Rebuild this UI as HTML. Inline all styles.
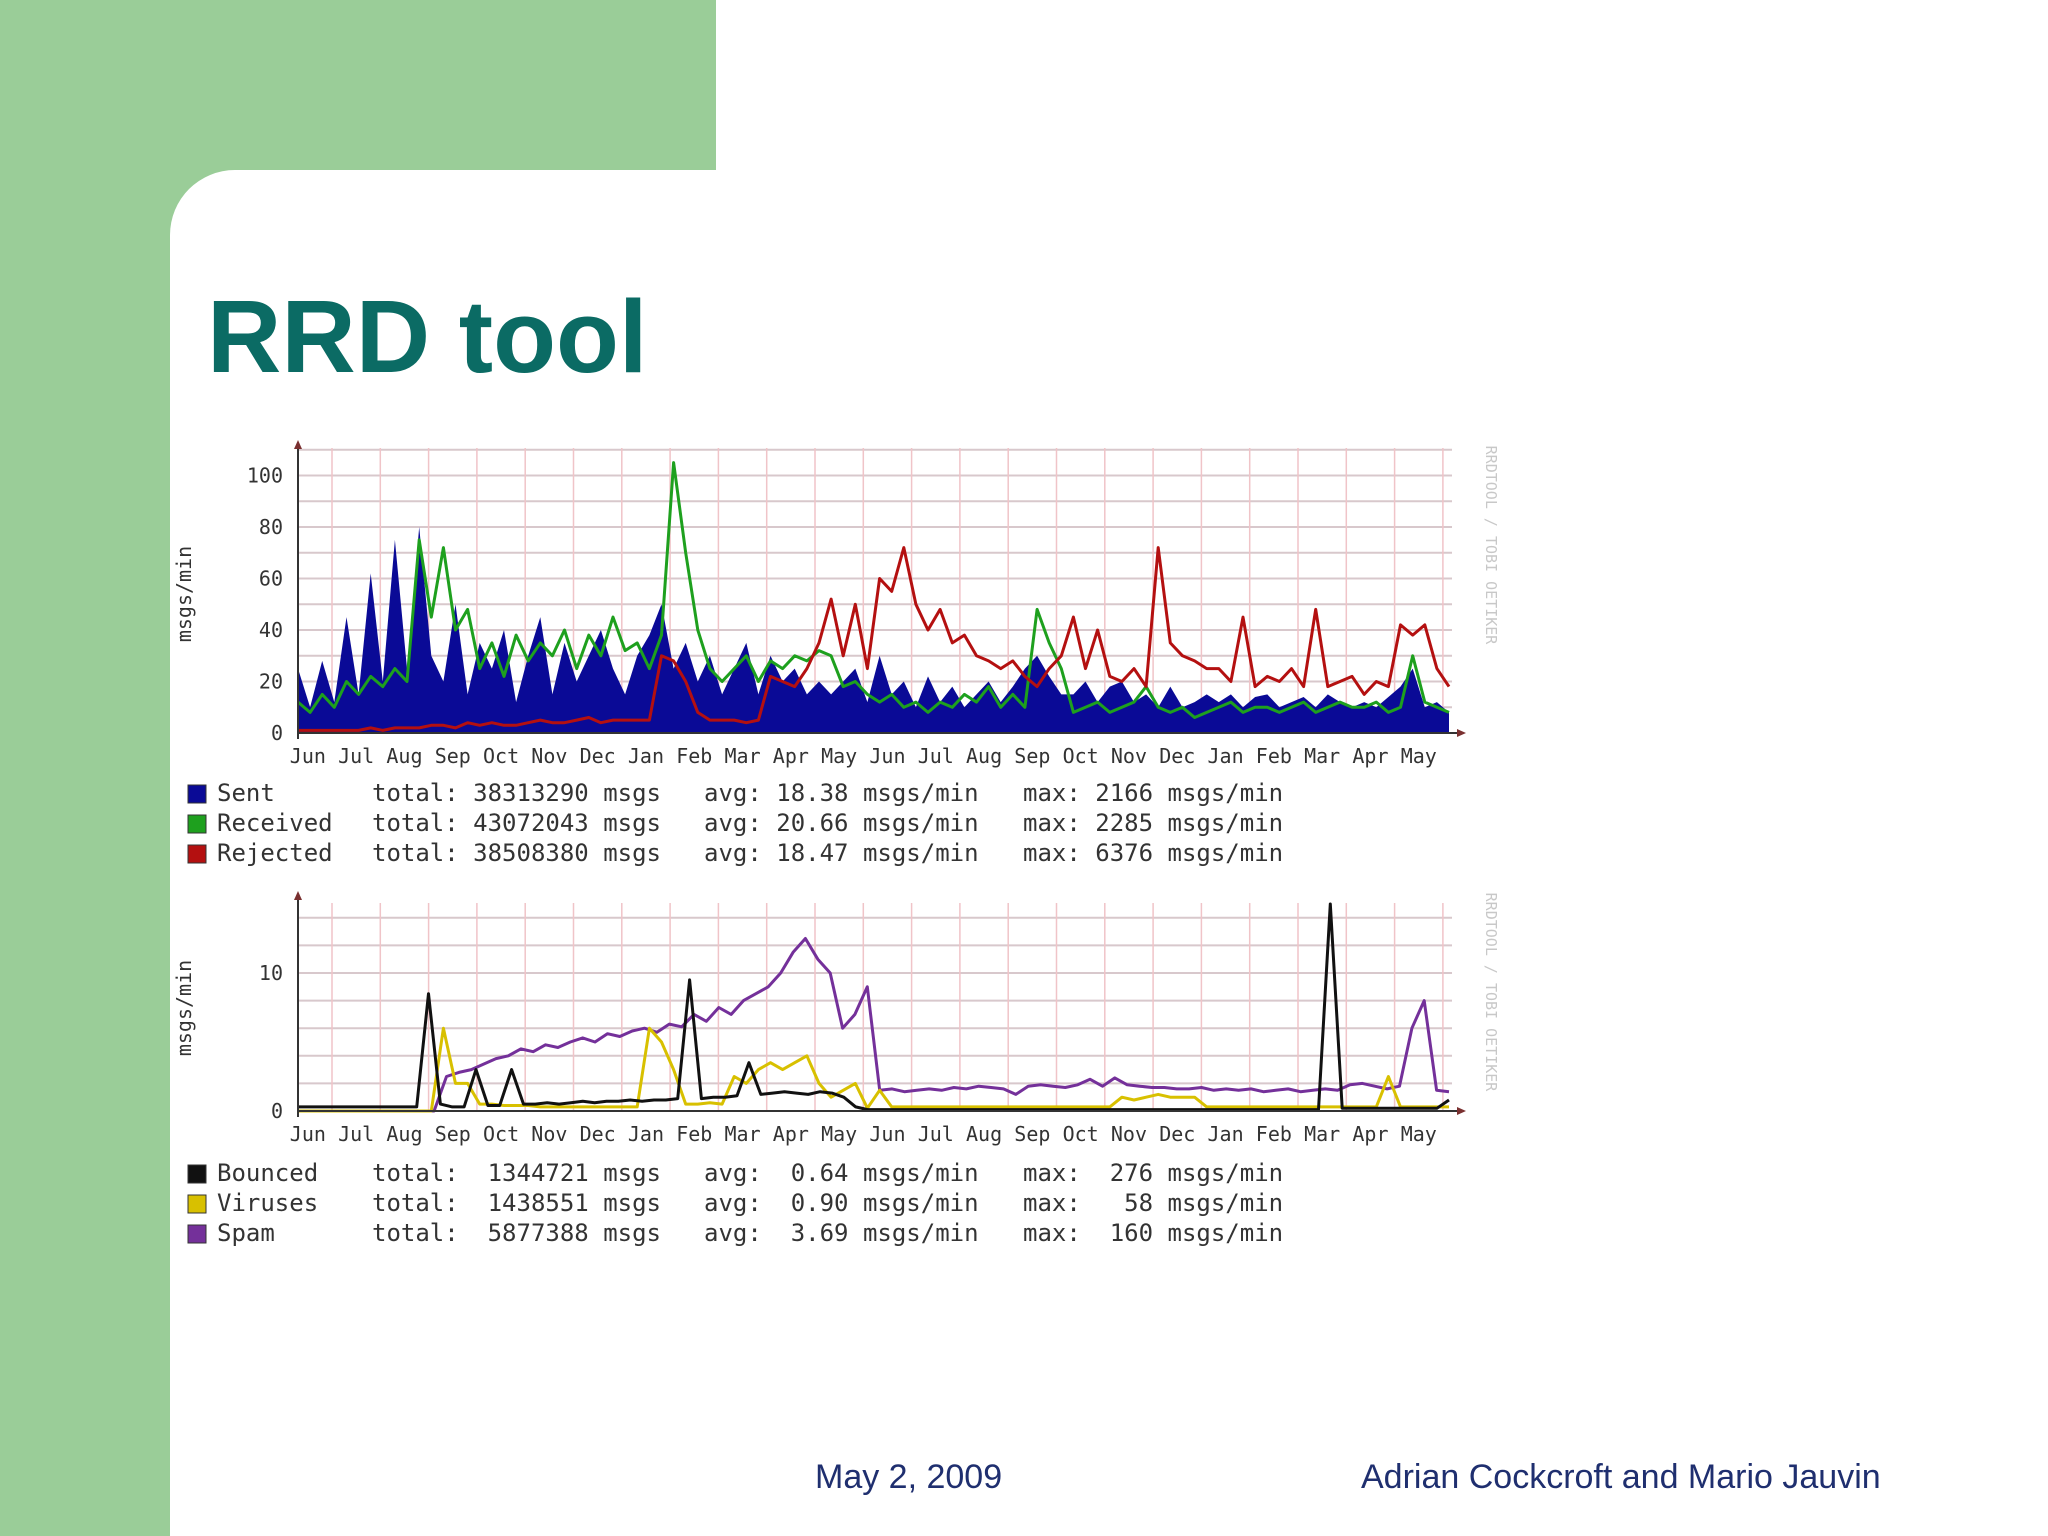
<!DOCTYPE html>
<html><head><meta charset="utf-8"><style>
html,body{margin:0;padding:0;background:#fff;}
#page{position:relative;width:2048px;height:1536px;overflow:hidden;background:#fff;font-family:"Liberation Sans",sans-serif;}
svg text{font-family:"DejaVu Sans Mono","Liberation Mono",monospace;}
</style></head><body>
<div id="page">
<div style="position:absolute;left:0;top:0;width:716px;height:170px;background:#9acd98"></div>
<div style="position:absolute;left:0;top:0;width:170px;height:1536px;background:#9acd98"></div>
<div style="position:absolute;left:170px;top:170px;width:80px;height:80px;background:#9acd98"></div>
<div style="position:absolute;left:170px;top:170px;width:1878px;height:1366px;background:#fff;border-top-left-radius:65px"></div>
<div style="position:absolute;left:207px;top:285px;font-size:103px;font-weight:bold;color:#0b6b64;line-height:1">RRD tool</div>
<div style="position:absolute;left:815px;top:1460px;font-size:34px;color:#1f2f6f;line-height:1">May 2, 2009</div>
<div style="position:absolute;left:1361px;top:1460px;font-size:34px;color:#1f2f6f;line-height:1">Adrian Cockcroft and Mario Jauvin</div>
<svg id="chart" width="2048" height="1536" style="position:absolute;left:0;top:0"></svg>
</div>
<script>
const months = ["Jun","Jul","Aug","Sep","Oct","Nov","Dec","Jan","Feb","Mar","Apr","May","Jun","Jul","Aug","Sep","Oct","Nov","Dec","Jan","Feb","Mar","Apr","May"];
const topTicks = [0,20,40,60,80,100];
const botTicks = [0,10];
const sent = [25,10,28,12, 45,15,62,20, 75,25,80,30, 20,50,15,35, 25,40,12,30, 45,15,35,20, 30,40,25,15, 30,38,50,25, 35,20,30,15, 25,35,15,30, 20,25,15,20, 15,20,25,12, 30,15,20,10, 22,12,18,10, 15,20,12,18, 25,30,22,15, 15,20,12,18, 20,12,15,10, 18,10,12,15, 12,15,10,14, 15,10,12,14, 10,15,12,10, 12,10,14,18, 25,10,12,8];
const received = [12,8,15,10, 20,15,22,18, 25,20,75,45, 72,40,48,25, 35,22,38,28, 35,30,40,25, 38,30,45,32, 35,25,38,105, 70,40,25,20, 25,30,20,28, 25,30,28,32, 30,18,20,15, 12,15,10,12, 8,12,10,15, 12,18,10,15, 10,48,35,25, 8,10,12,8, 10,12,18,10, 8,10,6,8, 10,12,8,10, 10,8,10,12, 8,10,12,10, 10,12,8,10, 30,12,10,8];
const rejected = [1,1,1,1, 1,1,2,1, 2,2,2,3, 3,2,4,3, 4,3,3,4, 5,4,4,5, 6,4,5,5, 5,5,30,28, 20,8,5,5, 5,4,5,22, 20,18,25,35, 52,30,50,25, 60,55,72,50, 40,48,35,38, 30,28,25,28, 22,18,25,30, 45,25,40,22, 20,25,18,72, 35,30,28,25, 25,20,45,18, 22,20,25,18, 48,18,20,22, 15,20,18,42, 38,42,25,18];
const bounced = [0.3,0.3,0.3,0.3,0.3,0.3,0.3,0.3,0.3,0.3,0.3, 8.5,0.5,0.3,0.3,3,0.4,0.4,3,0.5, 0.5,0.6,0.5,0.6,0.7,0.6,0.7,0.7, 0.8,0.7,0.8,0.8,0.9, 9.5,0.9,1.0,1.0,1.1,3.5,1.2, 1.3,1.4,1.3,1.2,1.4,1.3,1.0,0.3, 0.1,0.1,0.1,0.1,0.1,0.1,0.1,0.1,0.1,0.1,0.1,0.1,0.1,0.1,0.1,0.1,0.1,0.1,0.1,0.1,0.1,0.1,0.1,0.1,0.1,0.1,0.1,0.1,0.1,0.1,0.1,0.1,0.1,0.1,0.1,0.1,0.1,0.1,0.1, 15, 0.2,0.2,0.2,0.2,0.2,0.2,0.2,0.2,0.2,0.8];
const viruses = [0,0,0,0,0,0,0,0,0,0,0,0, 6,2,2,0.5,0.5,0.4,0.4,0.4, 0.3,0.3,0.3,0.3,0.3,0.3,0.3,0.3,0.3, 6,5,3,0.5,0.5,0.6,0.5, 2.5,2,3,3.5, 3,3.5,4,2,1,1.5, 2,0.2, 1.5,0.3,0.3,0.3,0.3,0.3,0.3,0.3,0.3,0.3,0.3,0.3,0.3,0.3,0.3,0.3,0.3,0.3,0.3,0.3, 1,0.8,1,1.2, 1,1,1,0.3,0.3,0.3,0.3,0.3,0.3,0.3,0.3,0.3,0.3,0.3,0.3,0.3,0.3,0.3, 2.5,0.3,0.3,0.3,0.3,0.3];
const spam = [0,0,0,0,0,0,0,0,0,0,0,0, 2.5,2.8,3.0,3.4,3.8,4.0,4.5,4.3, 4.8,4.6,5.0,5.3,5.0,5.6,5.4,5.8, 6.0,5.7,6.3,6.1,7.0, 6.5,7.5,7.0,8.0, 8.5,9.0,10.0,11.5, 12.5,11.0,10.0,6.0, 7.0,9.0,1.5, 1.6,1.4,1.5,1.6,1.5,1.7,1.6,1.8, 1.7,1.6,1.2,1.8, 1.9,1.8,1.7,1.9, 2.3,1.8,2.4,1.9, 1.8,1.7,1.7,1.6, 1.6,1.7,1.5,1.6, 1.5,1.6,1.4,1.5, 1.6,1.4,1.5,1.6, 1.5,1.9,2.0,1.8, 1.6,1.8,6.0,8.0, 1.5,1.4];

const NS="http://www.w3.org/2000/svg";
const svg=document.getElementById('chart');
function mk(tag,attrs,parent){const e=document.createElementNS(NS,tag);for(const k in attrs)e.setAttribute(k,attrs[k]);(parent||svg).appendChild(e);return e;}
const X0=298, X1=1449;
function xs(i,n){return X0+i*(X1-X0)/(n-1);}

function drawChart(cfg){
  const g=mk('g',{});
  
  
  const ys=v=>cfg.y0-v*cfg.unit;
  for(let v=cfg.gstep; v<=cfg.gmax; v+=cfg.gstep){
    const l=mk('line',{x1:X0,x2:1452,y1:ys(v),y2:ys(v),stroke:'#d8c8cc','stroke-width':2},g);
    
    
  }
  for(let k=0;k<24;k++){
    const x=332+k*48.3;
    const l=mk('line',{x1:x,x2:x,y1:cfg.vtop,y2:cfg.y0,stroke:'#f0c4c8','stroke-width':1.5},g);
    
    
  }
  months.forEach((m,k)=>{
    const t=mk('text',{x:332+(k-0.5)*48.3,y:cfg.y0+30,'font-size':20,fill:'#333','text-anchor':'middle'},g);
    t.textContent=m;
    
    
  });
  cfg.ticks.forEach(v=>{
    const t=mk('text',{x:283,y:ys(v)+7,'font-size':20,fill:'#333','text-anchor':'end'},g);
    t.textContent=String(v);
    
    
  });
  cfg.series.forEach(s=>{
    const n=s.data.length;
    let d='';
    s.data.forEach((v,i)=>{d+=(i?'L':'M')+xs(i,n).toFixed(1)+' '+ys(v).toFixed(1);});
    let p;
    if(s.area){
      p=mk('path',{d:d+'L'+xs(n-1,n)+' '+cfg.y0+'L'+X0+' '+cfg.y0+'Z',fill:s.color},g);
    } else {
      p=mk('path',{d:d,fill:'none',stroke:s.color,'stroke-width':s.w||3,'stroke-linejoin':'round'},g);
    }
    
    
  });
  const ax=mk('line',{x1:X0,x2:1460,y1:cfg.y0,y2:cfg.y0,stroke:'#333','stroke-width':2},g);
  
  
  mk('path',{d:`M1466 ${cfg.y0}L1457 ${cfg.y0-4}L1457 ${cfg.y0+4}Z`,fill:'#7a3030'},g);
  const ay=mk('line',{x1:X0,x2:X0,y1:cfg.y0+6,y2:cfg.atop,stroke:'#333','stroke-width':2},g);
  
  
  mk('path',{d:`M${X0} ${cfg.atop-6}L${X0-4} ${cfg.atop+3}L${X0+4} ${cfg.atop+3}Z`,fill:'#7a3030'},g);
  const yl=mk('text',{x:0,y:0,'font-size':20,fill:'#333','text-anchor':'middle',transform:`translate(191 ${cfg.ylabelY}) rotate(-90)`},g);
  yl.textContent='msgs/min';
  
  
  const wm=mk('text',{x:0,y:0,'font-size':15,fill:'#c8c8c8','text-anchor':'middle',transform:`translate(1486 ${cfg.wmY}) rotate(90)`},g);
  wm.textContent='RRDTOOL / TOBI OETIKER';
  
  
  cfg.legend.forEach((r,i)=>{
    const y=cfg.legY+i*30;
    const sq=mk('rect',{x:188,y:y-16,width:18,height:18,fill:r.color,stroke:'#333','stroke-width':1},g);
    
    
    [[217,r.label],[372,r.total],[704,r.avg],[1023,r.max]].forEach(([x,s])=>{
      const t=mk('text',{x:x,y:y,'font-size':24,fill:'#333','xml:space':'preserve'},g);
      t.style.whiteSpace='pre';
      t.textContent=s;
      
      
    });
  });
}

drawChart({name:'traffic-chart',y0:733,unit:2.575,gstep:10,gmax:110,vtop:448,atop:446,ticks:topTicks,ylabelY:594,wmY:545,legY:801,
  series:[{name:'sent-area',data:sent,color:'#0a0a96',area:true},{name:'received-line',data:received,color:'#1ea01e'},{name:'rejected-line',data:rejected,color:'#b41010'}],
  legend:[{color:'#0a0a96',label:'Sent',total:'total: 38313290 msgs',avg:'avg: 18.38 msgs/min',max:'max: 2166 msgs/min'},
          {color:'#1ea01e',label:'Received',total:'total: 43072043 msgs',avg:'avg: 20.66 msgs/min',max:'max: 2285 msgs/min'},
          {color:'#b41010',label:'Rejected',total:'total: 38508380 msgs',avg:'avg: 18.47 msgs/min',max:'max: 6376 msgs/min'}]});
drawChart({name:'spam-chart',y0:1111,unit:13.8,gstep:2,gmax:14,vtop:903,atop:897,ticks:botTicks,ylabelY:1008,wmY:992,legY:1181,
  series:[{name:'spam-line',data:spam,color:'#74309a'},{name:'viruses-line',data:viruses,color:'#d8c000'},{name:'bounced-line',data:bounced,color:'#111'}],
  legend:[{color:'#111',label:'Bounced',total:'total:  1344721 msgs',avg:'avg:  0.64 msgs/min',max:'max:  276 msgs/min'},
          {color:'#d8c000',label:'Viruses',total:'total:  1438551 msgs',avg:'avg:  0.90 msgs/min',max:'max:   58 msgs/min'},
          {color:'#74309a',label:'Spam',total:'total:  5877388 msgs',avg:'avg:  3.69 msgs/min',max:'max:  160 msgs/min'}]});
</script>
</body></html>
